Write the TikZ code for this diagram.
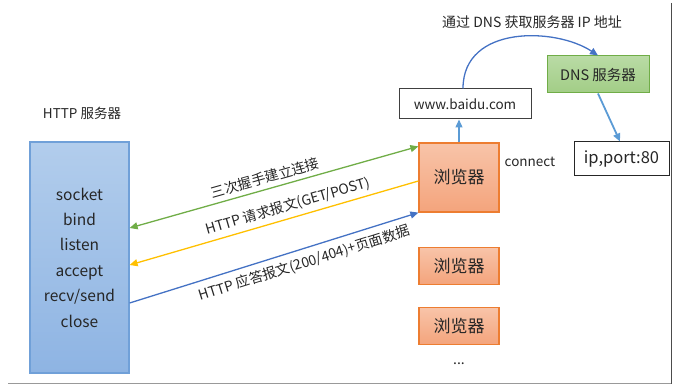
\documentclass[tikz,border=0pt]{standalone}
\usepackage{fontspec}
\setmainfont{Noto Sans CJK SC}
\usepackage{tikz}
\usetikzlibrary{positioning, arrows.meta}
\definecolor{srvtop}{HTML}{B2CDEC}
\definecolor{srvbottom}{HTML}{8EB4E3}
\definecolor{srvline}{HTML}{70A0D8}
\definecolor{brwtop}{HTML}{F8C4A9}
\definecolor{brwbottom}{HTML}{F4A47C}
\definecolor{brwline}{HTML}{ED7D31}
\definecolor{dnstop}{HTML}{B9DBA5}
\definecolor{dnsbottom}{HTML}{A2CD86}
\definecolor{dnsline}{HTML}{70AD47}
\definecolor{linkgreen}{HTML}{70AD47}
\definecolor{linkyellow}{HTML}{FFC000}
\definecolor{linkblue}{HTML}{4472C4}
\definecolor{lightblue}{HTML}{5B9BD5}
\definecolor{textgray}{HTML}{262626}

\begin{document}
\begin{tikzpicture}[x=1pt, y=-1pt, text=textgray, >={Triangle[length=8pt, width=7pt]},
  browser/.style={top color=brwtop, bottom color=brwbottom, draw=brwline, line width=1.2pt,
    minimum width=80pt, font=\fontsize{17}{20}\selectfont},
  link/.style={line width=1.3pt},
  lbl/.style={font=\fontsize{14}{16}\selectfont, text=textgray, sloped}]
  \useasboundingbox (0,0) rectangle (675,385);

  % server side
  \node[top color=srvtop, bottom color=srvbottom, draw=srvline, line width=1.2pt,
        minimum width=99pt, minimum height=231pt, align=center,
        font=\fontsize{15.5}{25.4}\selectfont] (srv) at (79.5,257.5)
    {socket\\bind\\listen\\accept\\recv/send\\close};
  \node[font=\fontsize{13.5}{16}\selectfont] (srvtitle) at (82,113) {HTTP 服务器};

  % browsers
  \node[browser, minimum height=69pt] (b1) at (459,177.5) {浏览器};
  \node[browser, minimum height=37pt, below=34pt of b1] (b2) {浏览器};
  \node[browser, minimum height=37pt, below=22pt of b2] (b3) {浏览器};
  \node[font=\fontsize{14}{16}\selectfont, below=14pt of b3] (more) {...};
  \node[font=\fontsize{13.5}{16}\selectfont] (conn) at (530,162) {connect};

  % dns lookup
  \node[draw=black!75, line width=1pt, minimum width=132pt, minimum height=30pt,
        font=\fontsize{13.5}{16}\selectfont] (www) at (465,104) {www.baidu.com};
  \node[top color=dnstop, bottom color=dnsbottom, draw=dnsline, line width=1pt,
        minimum width=102pt, minimum height=37pt,
        font=\fontsize{14.5}{16}\selectfont] (dns) at (598,74.5) {DNS 服务器};
  \node[draw=black!85, line width=1pt, minimum width=95pt, minimum height=34pt,
        font=\fontsize{16.5}{18}\selectfont] (ip) at (621.5,159) {ip,port:80};
  \node[font=\fontsize{14}{16}\selectfont] (dnstitle) at (532,22) {通过 DNS 获取服务器 IP 地址};

  \draw[link, ->, lightblue] (b1.north) -- (b1.north |- www.south);
  \draw[link, ->, linkblue] ([xshift=-2pt]www.north) .. controls +(0,-64) and +(-42,-28) .. (dns.north);
  \draw[link, ->, lightblue, line width=1.8pt] (dns.south) -- ([xshift=-1.5pt]ip.north);

  % messages
  \draw[link, <->, linkgreen] ([yshift=29.5pt]srv.east)
    -- node[lbl, above=1pt, pos=0.48] {三次握手建立连接} ([yshift=-4pt]b1.north west);
  \draw[link, <-, linkyellow] ([yshift=-7.5pt]srv.east)
    -- node[lbl, above=1pt, pos=0.56] {HTTP 请求报文(GET/POST)} ([yshift=-3.5pt]b1.west);
  \draw[link, ->, linkblue] ([yshift=-45.5pt]srv.east)
    -- node[lbl, below=3pt, pos=0.59] {HTTP 应答报文(200/404)+页面数据} (b1.south west);

  % page edges
  \draw[black!70, line width=0.8pt] (671,3) -- (671,384);
  \draw[black!40, line width=1.5pt] (8,383.5) -- (671,383.5);
\end{tikzpicture}
\end{document}
